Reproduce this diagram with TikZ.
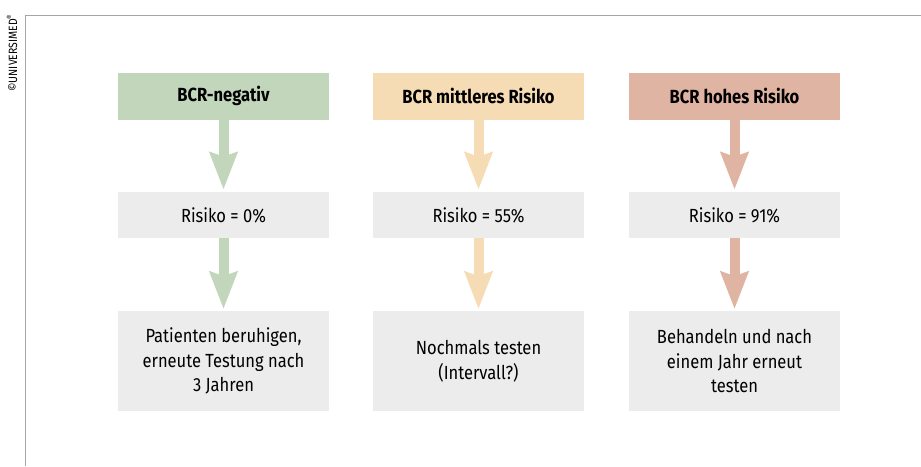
\documentclass[tikz,border=0pt]{standalone}
\usepackage{fontspec}
\setmainfont{Fira Sans}[FakeStretch=0.87]
\usetikzlibrary{arrows.meta, positioning}
\definecolor{bcrgreen}{RGB}{194,214,188}
\definecolor{bcrpeach}{RGB}{245,220,181}
\definecolor{bcrsalmon}{RGB}{224,180,162}
\definecolor{boxgrey}{RGB}{235,236,235}
\definecolor{framegrey}{RGB}{165,165,165}

\tikzset{
  head/.style={minimum width=211pt, minimum height=47pt, inner sep=0pt,
    font=\fontsize{19}{22}\selectfont\bfseries},
  riskbox/.style={fill=boxgrey, minimum width=211pt, minimum height=46pt, inner sep=0pt,
    font=\fontsize{19}{22}\selectfont},
  actbox/.style={fill=boxgrey, minimum width=211pt, minimum height=100pt, inner sep=0pt,
    align=center, font=\fontsize{19}{24.5}\selectfont},
  flow/.style={line width=10pt, -{Stealth[length=37pt, width=27pt, inset=4pt]}, shorten >=2pt}
}

\begin{document}
\begin{tikzpicture}[x=1pt, y=-1pt]
  \useasboundingbox (0,0) rectangle (921,466);
  % frame
  \draw[framegrey, line width=1pt] (25,466) -- (25,15) -- (921,15);
  \node[rotate=90, anchor=east, inner sep=0pt, font=\fontsize{12}{13}\selectfont] (copy) at (12,14) {\textcopyright UNIVERSIMED\textsuperscript{\textregistered}};
  % headers
  \node[head, fill=bcrgreen] (neg) at (223.5,96) {BCR-negativ};
  \node[head, fill=bcrpeach] (mid) at (478.5,96) {BCR mittleres Risiko};
  \node[head, fill=bcrsalmon] (high) at (734.5,96) {BCR hohes Risiko};
  % risks
  \node[riskbox, below=72pt of neg] (rneg) {Risiko = 0\%};
  \node[riskbox, below=72pt of mid] (rmid) {Risiko = 55\%};
  \node[riskbox, below=72pt of high] (rhigh) {Risiko = 91\%};
  % actions
  \node[actbox, below=73pt of rneg] (aneg) {Patienten beruhigen,\\erneute Testung nach\\3 Jahren};
  \node[actbox, below=73pt of rmid] (amid) {Nochmals testen\\(Intervall?)};
  \node[actbox, below=73pt of rhigh] (ahigh) {Behandeln und nach\\einem Jahr erneut\\testen};
  % arrows
  \draw[flow, bcrgreen] (neg) -- (rneg);
  \draw[flow, bcrgreen] (rneg) -- (aneg);
  \draw[flow, bcrpeach] (mid) -- (rmid);
  \draw[flow, bcrpeach] (rmid) -- (amid);
  \draw[flow, bcrsalmon] (high) -- (rhigh);
  \draw[flow, bcrsalmon] (rhigh) -- (ahigh);
\end{tikzpicture}
\end{document}
